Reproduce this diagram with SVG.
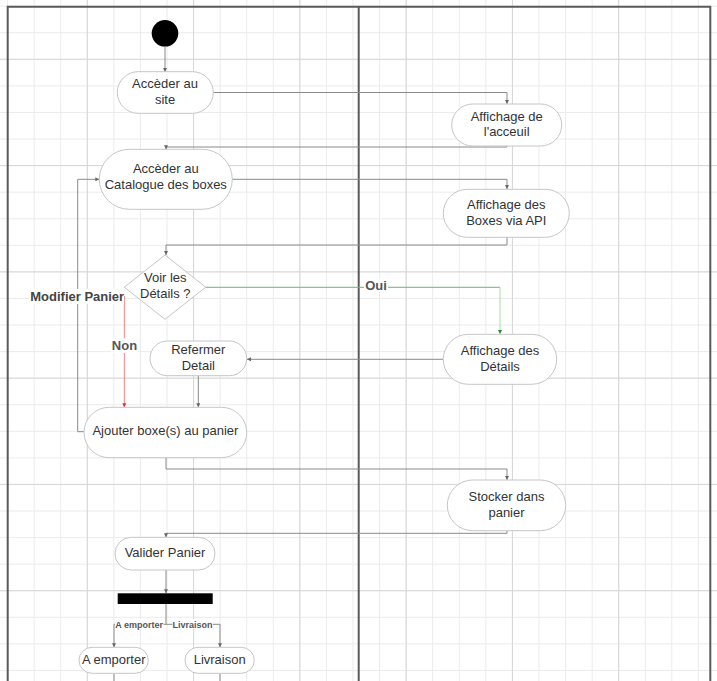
<svg xmlns="http://www.w3.org/2000/svg" width="717" height="681" viewBox="0 0 717 681">
<style>
.node{fill:#fff;stroke:#c6c6c6;stroke-width:1}
.t{font-family:"Liberation Sans",Arial,sans-serif;font-size:13px;fill:#333;text-anchor:middle}
.lbl{font-family:"Liberation Sans",Arial,sans-serif;font-size:13px;font-weight:bold;fill:#444;text-anchor:middle}
.sl{font-family:"Liberation Sans",Arial,sans-serif;font-size:9px;font-weight:bold;fill:#555;text-anchor:middle}
.c{fill:none;stroke:#8a8a8a;stroke-width:1}
.bg{fill:#fff}
.frame{fill:none;stroke:#5a5a5a;stroke-width:2}
</style>
<defs>
<pattern id="minor" patternUnits="userSpaceOnUse" x="-5.7" y="-7.1" width="26.57" height="26.57">
<path d="M13.285,0V26.57M0,13.285H26.57" stroke="#ebebeb" stroke-width="1" fill="none"/>
</pattern>
<pattern id="major" patternUnits="userSpaceOnUse" x="34.16" y="6.16" width="106.28" height="106.28">
<path d="M53.14,0V106.28M0,53.14H106.28" stroke="#d6d6d6" stroke-width="1" fill="none"/>
</pattern>
<marker id="a" markerUnits="userSpaceOnUse" markerWidth="4" markerHeight="4" refX="4" refY="2" orient="auto">
<path d="M0,0L4,2L0,4z" fill="#666"/>
</marker>
<marker id="ag" markerUnits="userSpaceOnUse" markerWidth="4" markerHeight="4" refX="4" refY="2" orient="auto">
<path d="M0,0L4,2L0,4z" fill="#2a8a2a"/>
</marker>
<marker id="ar" markerUnits="userSpaceOnUse" markerWidth="4" markerHeight="4" refX="4" refY="2" orient="auto">
<path d="M0,0L4,2L0,4z" fill="#e03030"/>
</marker>
</defs>
<rect width="717" height="681" fill="#fff"/>
<rect width="717" height="681" fill="url(#minor)"/>
<rect width="717" height="681" fill="url(#major)"/>
<g id="swimlanes">
<path class="frame" d="M7.7,690V6.7H710.3V690"/>
<path class="frame" d="M358.7,6.7V690"/>
</g>
<g id="connectors">
<path class="c" d="M165,46.7V72" marker-end="url(#a)"/>
<path class="c" d="M213,92.5H507V104" marker-end="url(#a)"/>
<path class="c" d="M507,146V147H166V149.3" marker-end="url(#a)"/>
<path class="c" d="M232,179.3H507V189" marker-end="url(#a)"/>
<path class="c" d="M507,237V245H166V255" marker-end="url(#a)"/>
<path d="M205.7,287.3H500" fill="none" stroke="#6cb86c" stroke-width="1"/>
<path d="M500,287.3V334" fill="none" stroke="#a8dca8" stroke-width="1" marker-end="url(#ag)"/>
<path class="c" d="M443,359.3H247" marker-end="url(#a)"/>
<path class="c" d="M198.3,375.7V407.3" marker-end="url(#a)"/>
<path d="M124.3,296V407.3" fill="none" stroke="#f08080" stroke-width="1" marker-end="url(#ar)"/>
<path class="c" d="M84,431.7H77.7V179.3H99.3" marker-end="url(#a)"/>
<path class="c" d="M166,457.7V469H507V480" marker-end="url(#a)"/>
<path class="c" d="M507,530.7V533.3H166V537.3" marker-end="url(#a)"/>
<path class="c" d="M166,570V593.3" marker-end="url(#a)"/>
<path class="c" d="M166,604V624.3H114V647.3" marker-end="url(#a)"/>
<path class="c" d="M166,624.3H220V647.3" marker-end="url(#a)"/>
<path class="c" d="M114,673.3V681M220,673.3V681"/>
<rect class="bg" x="29" y="289" width="95" height="15"/>
<text class="lbl" x="77.2" y="301.2">Modifier Panier</text>
<rect class="bg" x="111" y="338" width="27" height="15"/>
<text class="lbl" x="124.5" y="350.2" fill="#555" style="fill:#555">Non</text>
<rect class="bg" x="364" y="279" width="24" height="13"/>
<text class="lbl" x="376" y="289.8" style="fill:#555">Oui</text>
<rect class="bg" x="115" y="619" width="48.5" height="10"/>
<text class="sl" x="139.2" y="627.5">A emporter</text>
<rect class="bg" x="172.3" y="619" width="40.5" height="10"/>
<text class="sl" x="192.5" y="627.5">Livraison</text>
</g>
<g id="start"><circle cx="165" cy="33.3" r="13.3" fill="#000"/></g>
<g id="acceder-site">
<rect class="node" x="117.3" y="71.7" width="96" height="41.6" rx="20.8"/>
<text class="t" x="165" y="88">Accèder au</text>
<text class="t" x="165" y="103.5">site</text>
</g>
<g id="affichage-accueil">
<rect class="node" x="451.7" y="104" width="110" height="42" rx="21"/>
<text class="t" x="506.7" y="120.5">Affichage de</text>
<text class="t" x="506.7" y="135.5">l'acceuil</text>
</g>
<g id="acceder-catalogue">
<rect class="node" x="99.3" y="149.3" width="133" height="60" rx="30"/>
<text class="t" x="165.8" y="173">Accèder au</text>
<text class="t" x="165.8" y="189">Catalogue des boxes</text>
</g>
<g id="affichage-boxes">
<rect class="node" x="443.3" y="189.3" width="126" height="48" rx="24"/>
<text class="t" x="506.3" y="208.5">Affichage des</text>
<text class="t" x="506.3" y="224.5">Boxes via API</text>
</g>
<g id="voir-details">
<path class="node" d="M165,255L205.7,287.2L165,319.3L124.3,287.2Z"/>
<text class="t" x="165.3" y="282.2">Voir les</text>
<text class="t" x="165.3" y="297.8">Détails ?</text>
</g>
<g id="affichage-details">
<rect class="node" x="443.3" y="334.3" width="113.4" height="50" rx="25"/>
<text class="t" x="500" y="354.5">Affichage des</text>
<text class="t" x="500" y="370.5">Détails</text>
</g>
<g id="refermer-detail">
<rect class="node" x="150" y="341" width="96.7" height="34.7" rx="17.3"/>
<text class="t" x="198.3" y="354">Refermer</text>
<text class="t" x="198.3" y="369.5">Detail</text>
</g>
<g id="ajouter-panier">
<rect class="node" x="84" y="407.3" width="162.7" height="50.4" rx="25.2"/>
<text class="t" x="165.4" y="435.3">Ajouter boxe(s) au panier</text>
</g>
<g id="stocker-panier">
<rect class="node" x="447.3" y="480" width="118.4" height="50.7" rx="25.3"/>
<text class="t" x="506.5" y="500.5">Stocker dans</text>
<text class="t" x="506.5" y="516.5">panier</text>
</g>
<g id="valider-panier">
<rect class="node" x="115" y="537.3" width="100" height="32.7" rx="16.3"/>
<text class="t" x="165" y="557">Valider Panier</text>
</g>
<g id="fork"><rect x="117.7" y="593.3" width="95" height="10.7" fill="#000"/></g>
<g id="a-emporter">
<rect class="node" x="79" y="647.3" width="69.3" height="26" rx="13"/>
<text class="t" x="113.7" y="663.5">A emporter</text>
</g>
<g id="livraison">
<rect class="node" x="185" y="647.3" width="69.3" height="26" rx="13"/>
<text class="t" x="219.7" y="663.5">Livraison</text>
</g>
</svg>
